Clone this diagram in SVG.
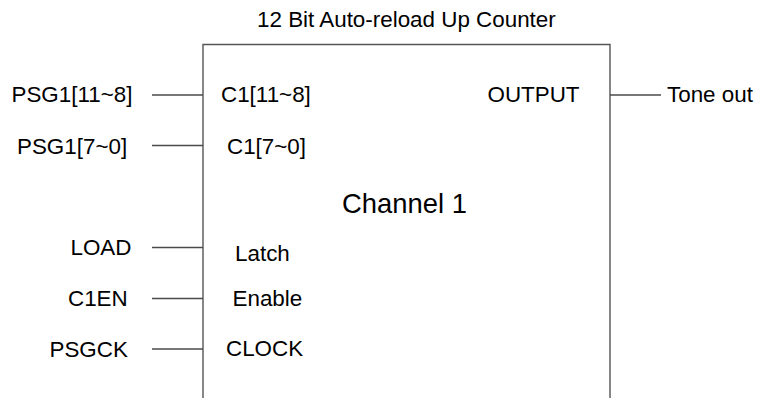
<svg xmlns="http://www.w3.org/2000/svg" width="760" height="398" viewBox="0 0 760 398">
<style>
text{font-family:"Liberation Sans",Arial,sans-serif;fill:#000;}
.lbl{font-size:22.4px;}
.big{font-size:27.4px;}
.wire{stroke:#4a4a4a;stroke-width:1.3;fill:none;}
.box{stroke:#555;stroke-width:1.4;fill:#fff;}
</style>
<rect width="760" height="398" fill="#fff"/>
<text id="title" class="lbl" x="257" y="26.5">12 Bit Auto-reload Up Counter</text>
<g id="channel1">
<path class="box" d="M203,400 V44.5 H610 V400"/>
<text class="big" x="342" y="213">Channel 1</text>
<text class="lbl" x="221" y="102">C1[11~8]</text>
<text class="lbl" x="227" y="153.5">C1[7~0]</text>
<text class="lbl" x="235" y="260.5">Latch</text>
<text class="lbl" x="232.5" y="305.5">Enable</text>
<text class="lbl" x="226" y="356">CLOCK</text>
<text class="lbl" x="487.5" y="101.5">OUTPUT</text>
</g>
<g id="in_psg1_hi"><text class="lbl" x="11.5" y="102">PSG1[11~8]</text></g>
<g id="in_psg1_lo"><text class="lbl" x="17" y="153.5">PSG1[7~0]</text></g>
<g id="in_load"><text class="lbl" x="70.5" y="255">LOAD</text></g>
<g id="in_c1en"><text class="lbl" x="68" y="306">C1EN</text></g>
<g id="in_psgck"><text class="lbl" x="49.5" y="356.5">PSGCK</text></g>
<g id="out_tone"><text class="lbl" x="667" y="102">Tone out</text></g>
<g id="connectors">
<line class="wire" x1="152" y1="95" x2="203" y2="95"/>
<line class="wire" x1="152" y1="145.5" x2="203" y2="145.5"/>
<line class="wire" x1="152" y1="247.5" x2="203" y2="247.5"/>
<line class="wire" x1="152" y1="298.5" x2="203" y2="298.5"/>
<line class="wire" x1="152" y1="349" x2="203" y2="349"/>
<line class="wire" x1="610" y1="95" x2="661" y2="95"/>
</g>
</svg>
